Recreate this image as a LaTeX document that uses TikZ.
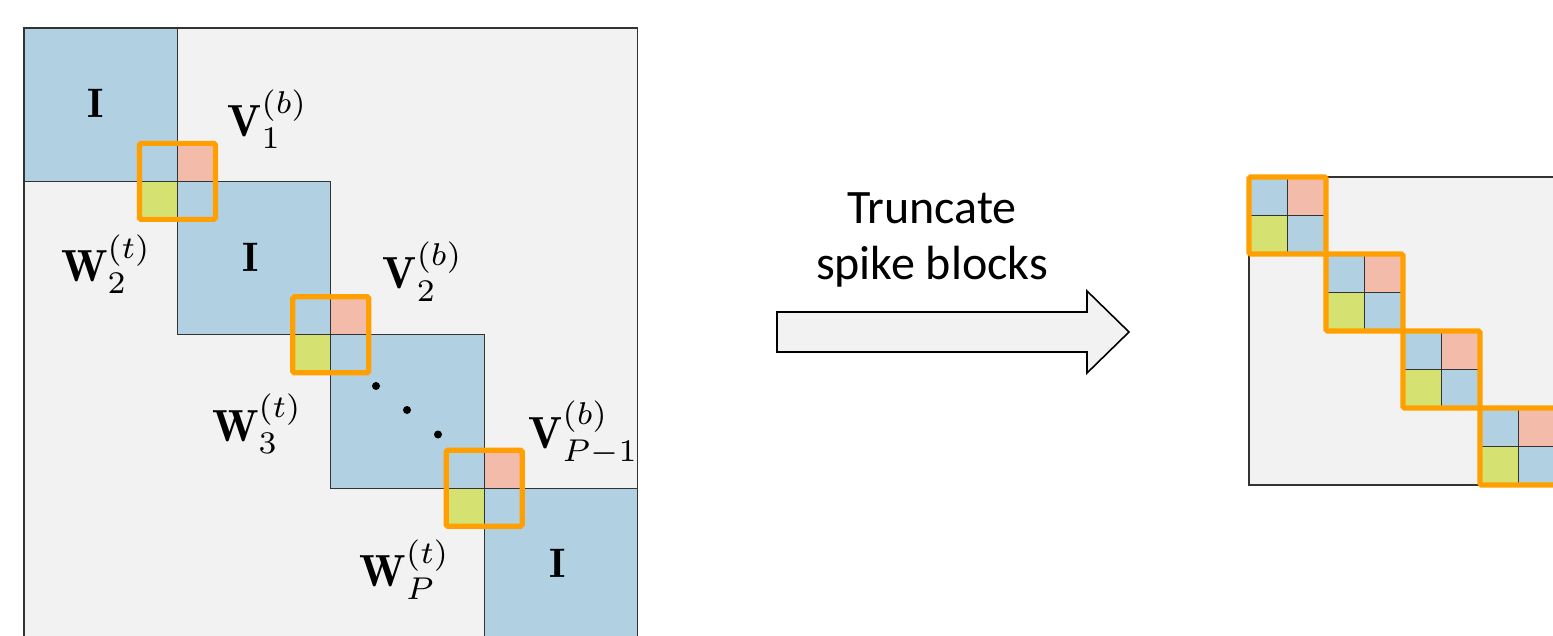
\documentclass[tikz,border=0pt]{standalone}
\usepackage{graphicx}
\usepackage{fontspec}
\newfontfamily\carlito{Carlito}
\definecolor{blk}{HTML}{B1D0E1}
\definecolor{spk}{HTML}{F2BBAA}
\definecolor{spg}{HTML}{D5E271}
\definecolor{bg}{HTML}{F2F2F2}
\definecolor{trunc}{HTML}{FFA000}
% math labels are set at 10pt and enlarged, so the scripts keep their 7pt shapes
\newcommand{\idlabel}[1]{\scalebox{2.06}{$#1$}}
\newcommand{\blocklabel}[1]{\scalebox{2.25}{$#1$}}
\tikzset{
  edge/.style={draw=black!80, line width=0.65pt},
  idblock/.style={fill=blk, edge},
  frame/.style={draw=trunc, line width=2.6pt, rounded corners=0.8pt},
  lbl/.style={inner sep=0pt, anchor=base west, font=\fontsize{10}{12}\selectfont},
  idlbl/.style={inner sep=0pt, font=\fontsize{10}{12}\selectfont},
  caption/.style={align=center, font=\carlito\fontsize{24}{28.5}\selectfont},
}
\begin{document}
\begin{tikzpicture}[x=0.5pt, y=-0.5pt]
\useasboundingbox (0,0) rectangle (1553,636);
\clip (0,0) rectangle (1553,636);
\fill[white] (0,0) rectangle (1553,636);

% ---- left: full banded matrix ----
\def\bs{153.4}
\def\hh{38}
\fill[bg] (24,28) rectangle (637.6,700);
\foreach \k in {0,1,2,3} {
  \path[idblock] ({24+\k*\bs},{28+\k*\bs}) rectangle ++(\bs,\bs);
}
\draw[edge] (24,28) rectangle (637.6,700);
% spike corners and truncation frames
\foreach \k in {1,2,3} {
  \pgfmathsetmacro{\cx}{24+\k*\bs}
  \pgfmathsetmacro{\cy}{28+\k*\bs}
  \fill[spk] (\cx,{\cy-\hh}) rectangle ({\cx+\hh},\cy);
  \fill[spg] ({\cx-\hh},\cy) rectangle (\cx,{\cy+\hh});
  \draw[edge] ({\cx-\hh},\cy) -- ({\cx+\hh},\cy);
  \draw[edge] (\cx,{\cy-\hh}) -- (\cx,{\cy+\hh});
  \draw[frame] ({\cx-\hh},{\cy-\hh}) rectangle ({\cx+\hh},{\cy+\hh});
}
\node[idlbl] (i1) at (95.7,103) {\idlabel{\mathbf{I}}};
\node[idlbl] (i2) at (250.5,257.5) {\idlabel{\mathbf{I}}};
\node[idlbl] (i3) at (558,563) {\idlabel{\mathbf{I}}};
\node[lbl] (v1) at (227.3,136.7) {\blocklabel{\mathbf{V}_1^{(b)}}};
\node[lbl] (v2) at (382.5,289) {\blocklabel{\mathbf{V}_2^{(b)}}};
\node[lbl] (vp) at (528.3,448) {\blocklabel{\mathbf{V}_{P-1}^{(b)}}};
\node[lbl] (w2) at (60.7,281.7) {\blocklabel{\mathbf{W}_2^{(t)}}};
\node[lbl] (w3) at (211.7,441) {\blocklabel{\mathbf{W}_3^{(t)}}};
\node[lbl] (wp) at (359.3,586.7) {\blocklabel{\mathbf{W}_P^{(t)}}};
\foreach \p in {(376,386),(407,410),(438,434.5)} {
  \fill \p circle (4);
}

% ---- middle: block arrow with caption ----
\draw[fill=bg, line width=0.8pt, line join=miter]
  (777,312) -- (1087,312) -- (1087,291) -- (1129,332)
  -- (1087,373) -- (1087,352) -- (777,352) -- cycle;
\node[caption, anchor=base] (cap1) at (932,223.3) {Truncate};
\node[caption, anchor=base] (cap2) at (932,280) {spike blocks};

% ---- right: truncated block-diagonal matrix ----
\def\st{77}
\def\rh{38.5}
\fill[bg] (1249,177) rectangle ({1249+4*\st},{177+4*\st});
\draw[edge] (1249,177) rectangle ({1249+4*\st},{177+4*\st});
\foreach \k in {0,1,2,3} {
  \pgfmathsetmacro{\cx}{1249+\rh+\k*\st}
  \pgfmathsetmacro{\cy}{177+\rh+\k*\st}
  \fill[blk] ({\cx-\rh},{\cy-\rh}) rectangle (\cx,\cy);
  \fill[spk] (\cx,{\cy-\rh}) rectangle ({\cx+\rh},\cy);
  \fill[spg] ({\cx-\rh},\cy) rectangle (\cx,{\cy+\rh});
  \fill[blk] (\cx,\cy) rectangle ({\cx+\rh},{\cy+\rh});
  \draw[edge] ({\cx-\rh},\cy) -- ({\cx+\rh},\cy);
  \draw[edge] (\cx,{\cy-\rh}) -- (\cx,{\cy+\rh});
}
\foreach \k in {0,1,2,3} {
  \pgfmathsetmacro{\cx}{1249+\rh+\k*\st}
  \pgfmathsetmacro{\cy}{177+\rh+\k*\st}
  \draw[frame] ({\cx-\rh},{\cy-\rh}) rectangle ({\cx+\rh},{\cy+\rh});
}
\end{tikzpicture}
\end{document}
